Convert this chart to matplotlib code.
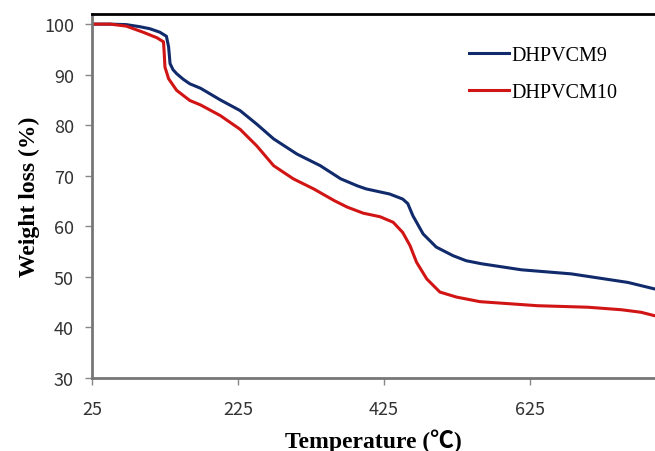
import matplotlib.pyplot as plt

# TGA curves, temperature in C, remaining weight in %
temp9 = [25, 50, 72, 90, 104, 118, 127, 130, 132, 136, 141, 150, 159, 174, 201, 228,
         251, 274, 306, 338, 366, 389, 401, 433, 451, 458, 465, 479, 497, 520, 538,
         559, 614, 682, 728, 760, 797]
wt9 = [100, 100, 99.9, 99.5, 99.1, 98.4, 97.6, 95.5, 92.2, 91.0, 90.2, 89.1, 88.2, 87.3,
       85.0, 82.9, 80.2, 77.3, 74.3, 72.0, 69.4, 68.0, 67.4, 66.4, 65.4, 64.5, 62.1,
       58.5, 55.9, 54.2, 53.2, 52.6, 51.4, 50.6, 49.6, 48.9, 47.6]

temp10 = [25, 50, 72, 95, 114, 123, 124, 125, 130, 141, 159, 174, 201, 228, 251, 274,
          301, 329, 357, 375, 397, 420, 438, 451, 461, 470, 484, 502, 525, 557, 636,
          705, 751, 778, 797]
wt10 = [100, 100, 99.6, 98.4, 97.3, 96.5, 94.2, 91.5, 89.2, 86.9, 84.9, 84.0, 81.9,
        79.2, 75.9, 72.0, 69.4, 67.4, 65.1, 63.8, 62.6, 61.9, 60.8, 58.8, 56.2, 52.9,
        49.6, 47.0, 46.0, 45.1, 44.3, 44.0, 43.5, 43.0, 42.3]

xticks = [25, 225, 425, 625]
yticks = [30, 40, 50, 60, 70, 80, 90, 100]

serif = ['Liberation Serif', 'Noto Sans CJK KR']
tickfont = 'Noto Sans CJK KR'

fig = plt.figure(figsize=(6.55, 4.52), dpi=100)
ax = fig.add_axes([0.1405, 0.1615, 0.8595, 0.8053])

ax.plot(temp9, wt9, color='#102a6b', lw=2.2, label='DHPVCM9')
ax.plot(temp10, wt10, color='#d11414', lw=2.2, label='DHPVCM10')

ax.set_xlim(25, 797)
ax.set_ylim(30, 102)
ax.set_xticks(xticks)
ax.set_yticks(yticks)
for lab in ax.get_xticklabels() + ax.get_yticklabels():
    lab.set_family(tickfont)
    lab.set_fontsize(13)
    lab.set_color('#333333')
ax.tick_params(direction='out', length=5, width=1, color='#888888', pad=8)
ax.tick_params(axis='x', pad=11)

ax.spines['right'].set_visible(False)
ax.spines['top'].set_color('black')
ax.spines['top'].set_linewidth(2)
for s in ['left', 'bottom']:
    ax.spines[s].set_color('#777777')
    ax.spines[s].set_linewidth(2)

ax.set_xlabel('Temperature (℃)', family=serif, fontsize=17, fontweight='bold', labelpad=7)
ax.set_ylabel('Weight loss (%)', family=serif, fontsize=17, fontweight='bold', labelpad=3)

ax.legend(loc='upper left', bbox_to_anchor=(0.637, 0.963), frameon=False,
          prop={'family': 'Liberation Serif', 'size': 14.5},
          handlelength=2.0, handletextpad=0.1, labelspacing=0.9)

fig.savefig('out.png', dpi=100)
